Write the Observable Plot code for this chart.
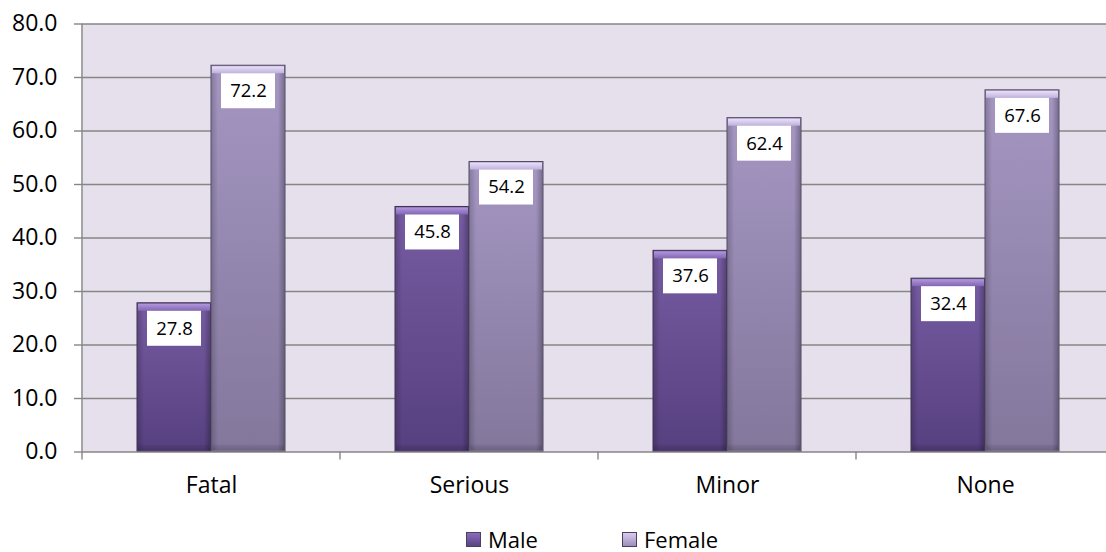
<!DOCTYPE html>
<html>
<head>
<meta charset="utf-8">
<script src="https://cdn.jsdelivr.net/npm/d3@7"></script>
<script src="https://cdn.jsdelivr.net/npm/@observablehq/plot@0.6"></script>
<style>
  html, body { margin: 0; padding: 0; background: #ffffff; overflow: hidden; }
  #wrap { position: relative; width: 1120px; height: 552px; font-family: 'Open Sans', sans-serif; }
  #legend { position: absolute; left: 466px; top: 529px; display: flex; font-size: 22px; line-height: 20px; color: #000; }
  .item { display: flex; align-items: center; width: 156px; height: 20px; }
  .sw { width: 15px; height: 15px; margin-right: 7px; box-sizing: border-box; border: 1px solid #4a3f5c; }
</style>
</head>
<body>
<svg width="0" height="0" style="position:absolute">
  <defs>
    <linearGradient id="gMale" x1="0" y1="0" x2="0" y2="1">
      <stop offset="0" stop-color="#7C60AA"/>
      <stop offset="1" stop-color="#5B4386"/>
    </linearGradient>
    <linearGradient id="gFemale" x1="0" y1="0" x2="0" y2="1">
      <stop offset="0" stop-color="#AD9ECC"/>
      <stop offset="1" stop-color="#8A7DA4"/>
    </linearGradient>
    <linearGradient id="gMaleTop" x1="0" y1="0" x2="0" y2="1">
      <stop offset="0" stop-color="#B197DC"/>
      <stop offset="1" stop-color="#8266B2"/>
    </linearGradient>
    <linearGradient id="gFemaleTop" x1="0" y1="0" x2="0" y2="1">
      <stop offset="0" stop-color="#EADFFA"/>
      <stop offset="1" stop-color="#BFB2DC"/>
    </linearGradient>
    <linearGradient id="gSide" x1="0" y1="0" x2="1" y2="0">
      <stop offset="0" stop-color="#000" stop-opacity="0.22"/>
      <stop offset="0.09" stop-color="#000" stop-opacity="0.05"/>
      <stop offset="0.91" stop-color="#000" stop-opacity="0.05"/>
      <stop offset="1" stop-color="#000" stop-opacity="0.3"/>
    </linearGradient>
    <linearGradient id="gBottom" x1="0" y1="0" x2="0" y2="1">
      <stop offset="0" stop-color="#000" stop-opacity="0.05"/>
      <stop offset="1" stop-color="#000" stop-opacity="0.18"/>
    </linearGradient>
  </defs>
</svg>
<div id="wrap">
  <div id="chart"></div>
  <div id="legend">
    <div class="item"><span class="sw" style="background: linear-gradient(#8A6CBB, #5B4386);"></span>Male</div>
    <div class="item"><span class="sw" style="background: linear-gradient(#D9CCF0, #9C8DBA);"></span>Female</div>
  </div>
</div>
<script>
const categories = ["Fatal", "Serious", "Minor", "None"];
const series = ["Male", "Female"];
const maleValues = [27.8, 45.8, 37.6, 32.4];
const femaleValues = [72.2, 54.2, 62.4, 67.6];
const yTicks = [0, 10, 20, 30, 40, 50, 60, 70, 80];

const rows = [];
categories.forEach((c, i) => {
  rows.push({category: c, sex: "Male", value: maleValues[i]});
  rows.push({category: c, sex: "Female", value: femaleValues[i]});
});

const isMale = d => d.sex === "Male";
const isFemale = d => d.sex === "Female";
const fmt = d3.format(".1f");
const gridColor = "#868686";

const chart = Plot.plot({
  width: 1120,
  height: 510,
  marginLeft: 82,
  marginRight: 6,
  marginTop: 23.5,
  marginBottom: 58.5,
  style: {fontFamily: "'Open Sans', sans-serif", fontSize: "23px", color: "#000", background: "transparent"},
  fx: {domain: categories, padding: 0, label: null},
  x: {domain: series, paddingInner: 0, paddingOuter: 0.743, axis: null},
  y: {domain: [0, 80], axis: null},
  marks: [
    Plot.frame({fill: "#E5E0EC", stroke: "none", insetLeft: -1, insetRight: -1}),
    Plot.gridY(yTicks.filter(t => t > 0), {stroke: gridColor, strokeOpacity: 1, strokeWidth: 1.4}),
    Plot.axisY(yTicks, {anchor: "left", tickSize: 8, tickPadding: 17, tickFormat: fmt, stroke: gridColor, strokeWidth: 1.4, fill: "#000", fontSize: 23, label: null}),
    Plot.axisFx({anchor: "bottom", tickSize: 0, tickPadding: 25, fontSize: 23, fill: "#000", label: null}),
    // main bars
    Plot.barY(rows, {fx: "category", x: "sex", y: "value", filter: isMale, fill: "url(#gMale)", stroke: "#3e3150", strokeWidth: 1}),
    Plot.barY(rows, {fx: "category", x: "sex", y: "value", filter: isFemale, fill: "url(#gFemale)", stroke: "#4f4860", strokeWidth: 1}),
    // side shading
    Plot.barY(rows, {fx: "category", x: "sex", y: "value", fill: "url(#gSide)", insetTop: 1, insetBottom: 1, insetLeft: 0.5, insetRight: 0.5}),
    // top bevel
    Plot.barY(rows, {fx: "category", x: "sex", y1: "value", y2: "value", filter: isMale, fill: "url(#gMaleTop)", insetTop: 1, insetBottom: -8, insetLeft: 1, insetRight: 1}),
    Plot.barY(rows, {fx: "category", x: "sex", y1: "value", y2: "value", filter: isFemale, fill: "url(#gFemaleTop)", insetTop: 1, insetBottom: -8, insetLeft: 1, insetRight: 1}),
    // bottom bevel
    Plot.barY(rows, {fx: "category", x: "sex", y1: () => 0, y2: () => 0, fill: "url(#gBottom)", insetTop: -7, insetBottom: 1, insetLeft: 1, insetRight: 1}),
    // label boxes
    Plot.barY(rows, {fx: "category", x: "sex", y1: "value", y2: "value", fill: "#ffffff", insetTop: 8, insetBottom: -43, insetLeft: 10, insetRight: 10}),
    Plot.text(rows, {fx: "category", x: "sex", y: "value", text: d => fmt(d.value), dy: 25.5, fontSize: 18.5, fill: "#000"}),
    Plot.ruleY([0], {stroke: gridColor, strokeWidth: 1.6})
  ]
});

document.getElementById("chart").appendChild(chart);

// category boundary ticks and left axis line, positioned via Plot's own scales
const fxS = chart.scale("fx");
const yS = chart.scale("y");
const bw = fxS.bandwidth;
const y0 = yS.apply(0);
const yTop = yS.apply(80);
const svg = d3.select(chart);
const g = svg.append("g").attr("stroke", gridColor).attr("stroke-width", 1.4);
const bounds = categories.map(c => fxS.apply(c)).concat([fxS.apply(categories[categories.length - 1]) + bw]);
bounds.forEach(x => {
  g.append("line").attr("x1", x).attr("x2", x).attr("y1", y0).attr("y2", y0 + 8);
});
g.append("line").attr("x1", bounds[0]).attr("x2", bounds[0]).attr("y1", yTop).attr("y2", y0);
</script>
</body>
</html>
